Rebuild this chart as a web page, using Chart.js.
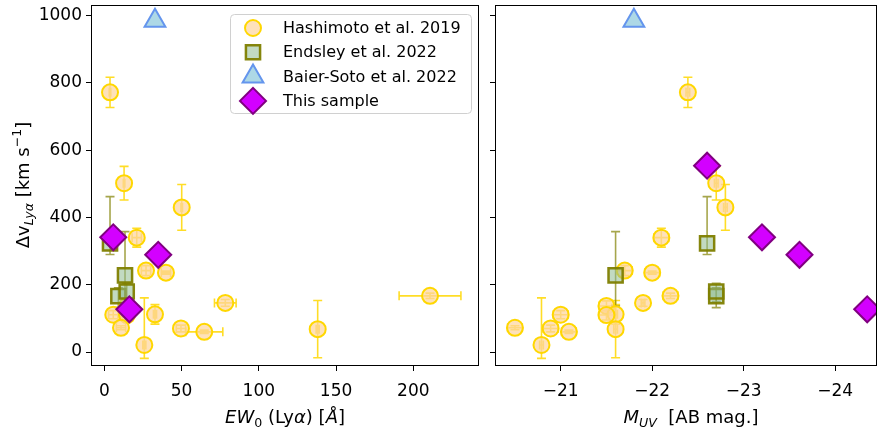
<!DOCTYPE html>
<html>
<head>
<meta charset="utf-8">
<script src="https://cdn.jsdelivr.net/npm/chart.js@4.4.1/dist/chart.umd.min.js"></script>
<style>
  html, body { margin: 0; padding: 0; background: #fff; }
  #wrap { position: relative; width: 878px; height: 435px; }
  #c1 { position: absolute; left: 0; top: 0; width: 480px; height: 435px; }
  #c2 { position: absolute; left: 480px; top: 0; width: 398px; height: 435px; }
</style>
</head>
<body>
<div id="wrap">
  <canvas id="c1" width="480" height="435"></canvas>
  <canvas id="c2" width="398" height="435"></canvas>
</div>
<script>
// ---------------- data ----------------
const ewTicks  = [0, 50, 100, 150, 200];
const muvTicks = [-21, -22, -23, -24];
const dvTicks  = [0, 200, 400, 600, 800, 1000];

const seriesLabels = ['Hashimoto et al. 2019', 'Endsley et al. 2022', 'Baier-Soto et al. 2022', 'This sample'];

// Hashimoto et al. 2019
const hashEW      = [3.7, 12.8, 50.1, 21.0, 27.0, 39.9, 210.8, 78.3, 14.7, 5.8, 32.8, 14.7, 10.8, 49.6, 138.1, 64.7, 25.9];
const hashEWErr   = [0.5, 0.5, 0.5, 3, 3, 3, 20, 7, 3, 3, 1, 3, 3, 3, 1, 12, 1];
const hashMUV     = [-22.39, -22.70, -22.80, -22.10, -21.70, -22.00, -22.20, -21.90, -21.50, -21.00, -21.60, -21.50, -20.50, -20.89, -21.60, -21.09, -20.79];
const hashMUVErr  = [0.02, 0.02, 0.02, 0.08, 0.08, 0.08, 0.08, 0.02, 0.08, 0.08, 0.02, 0.08, 0.08, 0.08, 0.02, 0.08, 0.02];
const hashDV      = [772, 502, 430, 340, 242, 236, 167, 146, 137, 111, 112, 110, 72, 70, 68, 60, 21];
const hashDVErrLo = [45, 50, 68, 28, 15, 5, 8, 10, 15, 12, 29, 15, 6, 10, 85, 5, 40];
const hashDVErrHi = [45, 50, 68, 28, 15, 5, 8, 10, 15, 12, 29, 15, 6, 10, 85, 5, 140];

// Endsley et al. 2022
const endEW      = [3.7, 13.4, 9.1, 14.5];
const endMUV     = [-22.60, -21.60, -22.70, -22.70];
const endDV      = [323, 228, 166, 180];
const endDVErrLo = [33, 91, 34, 30];
const endDVErrHi = [139, 130, 25, 24];

// Baier-Soto et al. 2022
const bsEW  = [32.8];
const bsMUV = [-21.80];
const bsDV  = [985];

// This sample (one object has no EW measurement)
const tsEW  = [null, 5.8, 34.9, 16.2];
const tsMUV = [-22.60, -23.20, -23.61, -24.35];
const tsDV  = [554, 341, 289, 127];

// ---------------- styles ----------------
const FONT = '"DejaVu Sans", "Liberation Sans", sans-serif';
const styles = [
  { pointStyle: 'circle',  radius: 8,  borderWidth: 2,   bg: 'rgba(253,214,160,0.72)', border: '#FFD700' },
  { pointStyle: 'rect',    radius: 10, borderWidth: 2.5, bg: 'rgba(143,188,143,0.55)', border: 'rgba(128,128,0,0.95)' },
  { pointStyle: 'triangle',radius: 12, borderWidth: 2,   bg: '#ADD8E6',                border: '#6495ED' },
  { pointStyle: 'rectRot', radius: 13, borderWidth: 2,   bg: '#D300FF',                border: '#800080' }
];

function pts(xs, ys) {
  const out = [];
  xs.forEach((x, i) => { if (x !== null && ys[i] !== null) out.push({ x: x, y: ys[i] }); });
  return out;
}

function makeDataset(k, data) {
  const s = styles[k];
  return {
    label: seriesLabels[k],
    data: data,
    pointStyle: s.pointStyle,
    pointRadius: s.radius,
    pointHoverRadius: s.radius,
    pointBorderWidth: s.borderWidth,
    pointBackgroundColor: s.bg,
    pointBorderColor: s.border,
    showLine: false,
    clip: 0,
    order: 4 - k
  };
}

// ---------------- marker drawing (legend) ----------------
function drawMarker(ctx, s, x, y) {
  const r = s.radius;
  ctx.save();
  ctx.beginPath();
  if (s.pointStyle === 'circle') {
    ctx.arc(x, y, r, 0, Math.PI * 2);
  } else if (s.pointStyle === 'rect') {
    const h = Math.SQRT1_2 * r;
    ctx.rect(x - h, y - h, 2 * h, 2 * h);
  } else if (s.pointStyle === 'triangle') {
    for (let j = 0; j < 3; j++) {
      const a = j * 2 * Math.PI / 3;
      const px = x + Math.sin(a) * r, py = y - Math.cos(a) * r;
      if (j === 0) ctx.moveTo(px, py); else ctx.lineTo(px, py);
    }
    ctx.closePath();
  } else {
    ctx.moveTo(x - r, y); ctx.lineTo(x, y - r); ctx.lineTo(x + r, y); ctx.lineTo(x, y + r);
    ctx.closePath();
  }
  ctx.fillStyle = s.bg;
  ctx.fill();
  ctx.lineWidth = s.borderWidth;
  ctx.strokeStyle = s.border;
  ctx.stroke();
  ctx.restore();
}

// ---------------- rich text (italic / sub / superscript) ----------------
function segFont(seg, size) {
  const sz = (seg.sub || seg.sup) ? size * 0.7 : size;
  return (seg.i ? 'italic ' : '') + sz + 'px ' + FONT;
}
function drawRich(ctx, segs, cx, cy, size, vertical) {
  ctx.save();
  ctx.translate(cx, cy);
  if (vertical) ctx.rotate(-Math.PI / 2);
  let total = 0;
  segs.forEach(seg => { ctx.font = segFont(seg, size); total += ctx.measureText(seg.t).width; });
  let x = -total / 2;
  ctx.fillStyle = '#000';
  ctx.textBaseline = 'alphabetic';
  ctx.textAlign = 'left';
  segs.forEach(seg => {
    ctx.font = segFont(seg, size);
    const dy = seg.sub ? size * 0.22 : (seg.sup ? -size * 0.42 : 0);
    ctx.fillText(seg.t, x, dy);
    x += ctx.measureText(seg.t).width;
  });
  ctx.restore();
}

const titleEW  = [{ t: 'EW', i: 1 }, { t: '0', sub: 1 }, { t: ' (Ly' }, { t: 'α', i: 1 }, { t: ') [' }, { t: 'Å', i: 1 }, { t: ']' }];
const titleMUV = [{ t: 'M', i: 1 }, { t: 'UV', i: 1, sub: 1 }, { t: '  [AB mag.]' }];
const titleDV  = [{ t: 'Δv' }, { t: 'Lyα', i: 1, sub: 1 }, { t: ' [km s' }, { t: '−1', sup: 1 }, { t: ']' }];

// ---------------- plugins ----------------
const errorBarPlugin = {
  id: 'errbars',
  beforeDatasetsDraw(chart, args, opts) {
    const ctx = chart.ctx, xs = chart.scales.x, ys = chart.scales.y, a = chart.chartArea;
    ctx.save();
    ctx.beginPath();
    ctx.rect(a.left, a.top, a.right - a.left, a.bottom - a.top);
    ctx.clip();
    (opts.sets || []).forEach(set => {
      ctx.strokeStyle = set.color;
      ctx.lineWidth = set.width;
      const cap = set.cap;
      set.x.forEach((xv, i) => {
        const yv = set.y[i];
        if (xv === null || yv === null) return;
        const px = xs.getPixelForValue(xv), py = ys.getPixelForValue(yv);
        ctx.beginPath();
        if (set.ylo) {
          const t = ys.getPixelForValue(yv + set.yhi[i]), b = ys.getPixelForValue(yv - set.ylo[i]);
          ctx.moveTo(px, t); ctx.lineTo(px, b);
          ctx.moveTo(px - cap, t); ctx.lineTo(px + cap, t);
          ctx.moveTo(px - cap, b); ctx.lineTo(px + cap, b);
        }
        if (set.xerr) {
          const l = xs.getPixelForValue(xv - set.xerr[i]), r = xs.getPixelForValue(xv + set.xerr[i]);
          ctx.moveTo(l, py); ctx.lineTo(r, py);
          ctx.moveTo(l, py - cap); ctx.lineTo(l, py + cap);
          ctx.moveTo(r, py - cap); ctx.lineTo(r, py + cap);
        }
        ctx.stroke();
      });
    });
    ctx.restore();
  }
};

const framePlugin = {
  id: 'frame',
  afterDatasetsDraw(chart, args, opts) {
    const ctx = chart.ctx, a = chart.chartArea;
    ctx.save();
    ctx.strokeStyle = '#000';
    ctx.lineWidth = 1;
    const l = Math.round(a.left) + 0.5, t = Math.round(a.top) + 0.5;
    const r = Math.round(a.right) - 0.5, b = Math.round(a.bottom) - 0.5;
    ctx.strokeRect(l, t, r - l, b - t);
    ctx.restore();
  },
  afterDraw(chart, args, opts) {
    const ctx = chart.ctx;
    (opts.titles || []).forEach(tt => drawRich(ctx, tt.segs, tt.x, tt.y, tt.size, tt.vertical));
    if (opts.legend) {
      const L = opts.legend;
      ctx.save();
      ctx.beginPath();
      ctx.roundRect(L.x0 + 0.5, L.y0 + 0.5, L.x1 - L.x0, L.y1 - L.y0, 4);
      ctx.fillStyle = 'rgba(255,255,255,0.8)';
      ctx.fill();
      ctx.strokeStyle = '#d0d0d0';
      ctx.lineWidth = 1;
      ctx.stroke();
      chart.data.datasets.forEach((ds, k) => {
        const y = L.rowTop + k * L.rowStep;
        drawMarker(ctx, styles[k], L.markerX, y);
        ctx.font = L.size + 'px ' + FONT;
        ctx.fillStyle = '#000';
        ctx.textAlign = 'left';
        ctx.textBaseline = 'middle';
        ctx.fillText(ds.label, L.textX, y + 1);
      });
      ctx.restore();
    }
  }
};

// ---------------- shared axis helpers ----------------
function fmtMinus(v) { return v < 0 ? '\u2212' + Math.abs(v) : String(v); }

// fixed axis thickness, and no extra room for label overhang at the ends
function fixSize(prop, value) {
  return s => {
    s[prop] = value;
    s.paddingLeft = 0; s.paddingRight = 0; s.paddingTop = 0; s.paddingBottom = 0;
  };
}

function axisCommon(tickList, showLabels, fmt, pad) {
  return {
    type: 'linear',
    afterBuildTicks: s => { s.ticks = tickList.map(v => ({ value: v })); },
    grid: { drawOnChartArea: false, drawTicks: true, tickLength: 5, tickColor: '#000', tickWidth: 1 },
    border: { display: false },
    ticks: {
      display: showLabels,
      autoSkip: false,
      maxRotation: 0,
      padding: pad,
      color: '#000',
      font: { family: FONT, size: 17 },
      callback: v => fmt(v)
    }
  };
}

Chart.defaults.animation = false;

// ---------------- left panel: EW vs dv ----------------
new Chart(document.getElementById('c1'), {
  type: 'scatter',
  data: {
    datasets: [
      makeDataset(0, pts(hashEW, hashDV)),
      makeDataset(1, pts(endEW, endDV)),
      makeDataset(2, pts(bsEW, bsDV)),
      makeDataset(3, pts(tsEW, tsDV))
    ]
  },
  options: {
    responsive: false,
    animation: false,
    events: [],
    layout: { autoPadding: false, padding: { left: 0, right: 1, top: 5, bottom: 0 } },
    scales: {
      x: Object.assign(axisCommon(ewTicks, true, v => String(v), 10), {
        min: -8.61, max: 242.5,
        afterFit: fixSize('height', 69)
      }),
      y: Object.assign(axisCommon(dvTicks, true, v => String(v), 4), {
        min: -41.6, max: 1031.8,
        afterFit: fixSize('width', 91)
      })
    },
    plugins: {
      legend: { display: false },
      tooltip: { enabled: false },
      errbars: {
        sets: [
          { x: hashEW, y: hashDV, ylo: hashDVErrLo, yhi: hashDVErrHi, xerr: hashEWErr, color: 'rgba(255,215,0,0.85)', width: 1.6, cap: 4.5 },
          { x: endEW, y: endDV, ylo: endDVErrLo, yhi: endDVErrHi, color: 'rgba(128,128,0,0.7)', width: 1.6, cap: 4.5 }
        ]
      },
      frame: {
        titles: [
          { segs: titleEW, x: 285, y: 423, size: 18 },
          { segs: titleDV, x: 29, y: 185, size: 18, vertical: true }
        ],
        legend: { x0: 230, y0: 14, x1: 471, y1: 113, markerX: 253, textX: 283, rowTop: 28, rowStep: 24.3, size: 16 }
      }
    }
  },
  plugins: [errorBarPlugin, framePlugin]
});

// ---------------- right panel: M_UV vs dv ----------------
new Chart(document.getElementById('c2'), {
  type: 'scatter',
  data: {
    datasets: [
      makeDataset(0, pts(hashMUV, hashDV)),
      makeDataset(1, pts(endMUV, endDV)),
      makeDataset(2, pts(bsMUV, bsDV)),
      makeDataset(3, pts(tsMUV, tsDV))
    ]
  },
  options: {
    responsive: false,
    animation: false,
    events: [],
    layout: { autoPadding: false, padding: { left: 0, right: 1, top: 5, bottom: 0 } },
    scales: {
      x: Object.assign(axisCommon(muvTicks, true, fmtMinus, 10), {
        min: -24.457, max: -20.282, reverse: true,
        afterFit: fixSize('height', 69)
      }),
      y: Object.assign(axisCommon(dvTicks, false, v => String(v), 4), {
        min: -41.6, max: 1031.8,
        afterFit: fixSize('width', 15)
      })
    },
    plugins: {
      legend: { display: false },
      tooltip: { enabled: false },
      errbars: {
        sets: [
          { x: hashMUV, y: hashDV, ylo: hashDVErrLo, yhi: hashDVErrHi, xerr: hashMUVErr, color: 'rgba(255,215,0,0.85)', width: 1.6, cap: 4.5 },
          { x: endMUV, y: endDV, ylo: endDVErrLo, yhi: endDVErrHi, color: 'rgba(128,128,0,0.7)', width: 1.6, cap: 4.5 }
        ]
      },
      frame: {
        titles: [
          { segs: titleMUV, x: 211, y: 423, size: 18 }
        ]
      }
    }
  },
  plugins: [errorBarPlugin, framePlugin]
});
</script>
</body>
</html>
